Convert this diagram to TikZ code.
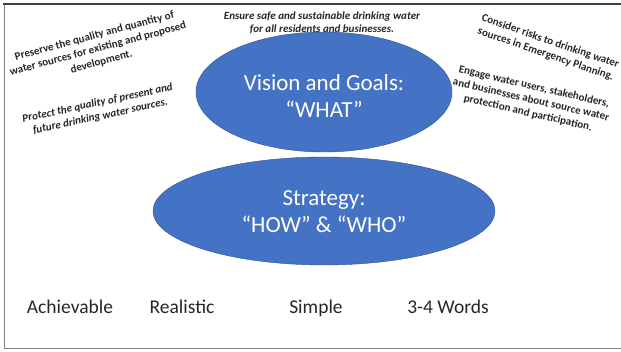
\documentclass[tikz,border=0pt]{standalone}
\usepackage{fontspec}
\setmainfont{Carlito}
\usetikzlibrary{shapes.geometric}
\definecolor{ovalblue}{HTML}{4472C4}
\definecolor{ovaledge}{HTML}{2F528F}
\definecolor{labelgray}{HTML}{262626}

\begin{document}
\begin{tikzpicture}[x=1pt, y=-1pt,
    oval/.style={ellipse, draw=ovaledge, fill=ovalblue, inner sep=0pt},
    ovaltext/.style={anchor=base, align=center, inner sep=0pt, text=white, font=\fontsize{23}{27.5}\selectfont},
    note/.style={align=center, inner sep=0pt, text=labelgray, font=\fontsize{11}{13.5}\selectfont\bfseries},
    crit/.style={anchor=base, inner sep=0pt, text=labelgray, font=\fontsize{19.5}{23}\selectfont}]
  \useasboundingbox (0,0) rectangle (621,352);

  % frame
  \draw[line width=1pt, gray] (621,349) -- (4,349) -- (4,4);
  \draw[line width=2pt, black!75] (3,4) -- (621,4);

  % the two ovals
  \node[oval, minimum width=256pt, minimum height=120pt] (vision) at (324,92) {};
  \node[ovaltext] (visiontext) at (324,118) {Vision and Goals:\\``WHAT''};
  \node[oval, minimum width=342pt, minimum height=108pt] (strategy) at (324,211) {};
  \node[ovaltext] (strategytext) at (324,233) {Strategy:\\``HOW'' \& ``WHO''};

  % goals around the top oval
  \node[note, rotate=15] (preserve) at (98,49) {Preserve the quality and quantity of\\water sources for existing and proposed\\development.};
  \node[note, rotate=12] (protect) at (99,110) {\itshape Protect the quality of present and\\\itshape future drinking water sources.};
  \node[note] (ensure) at (322,23) {\itshape Ensure safe and sustainable drinking water\\\itshape for all residents and businesses.};
  \node[note, rotate=-19] (consider) at (548,48) {Consider risks to drinking water\\sources in Emergency Planning.};
  \node[note, rotate=-13] (engage) at (531,100) {Engage water users, stakeholders,\\and businesses about source water\\protection and participation.};

  % criteria
  \node[crit] (achievable) at (70,314) {Achievable};
  \node[crit] (realistic) at (182,314) {Realistic};
  \node[crit] (simple) at (316,314) {Simple};
  \node[crit] (words) at (448,314) {3-4 Words};
\end{tikzpicture}
\end{document}
